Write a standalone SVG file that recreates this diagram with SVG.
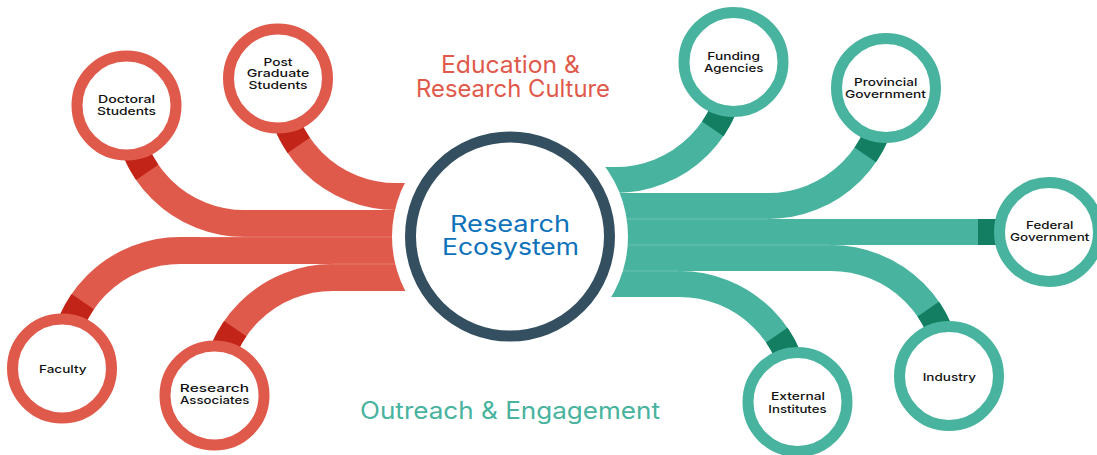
<svg xmlns="http://www.w3.org/2000/svg" xmlns:xlink="http://www.w3.org/1999/xlink" width="1097" height="455" viewBox="0 0 1097 455">
<style>
.br{fill:none;stroke:#E05A4B;stroke-width:27}
.dr{fill:none;stroke:#C22418;stroke-width:27;stroke-dasharray:0 50 21 3000}
.bt{fill:none;stroke:#48B39E;stroke-width:26}
.dt{fill:none;stroke:#137E62;stroke-width:26;stroke-dasharray:0 50 21 3000}
.seam{stroke:#ffffff;stroke-opacity:0.2;stroke-width:1}
.nr{fill:#fff;stroke:#E05A4B;stroke-width:11}
.nt{fill:#fff;stroke:#48B39E;stroke-width:11}
.lbl{font-family:Inter,"Liberation Sans",sans-serif;font-size:11px;font-weight:500;fill:#111;text-anchor:middle}
.ttl{font-family:Inter,"Liberation Sans",sans-serif;font-size:24px;font-weight:400;text-anchor:middle}
.hub{font-family:Inter,"Liberation Sans",sans-serif;font-size:22.5px;font-weight:400;text-anchor:middle;fill:#0E72BB}
</style>
<defs>
<path id="pPG" d="M278,78.5 A118,118 0 0 0 396,196.5 H510"/>
<path id="pDoc" d="M126.5,105.5 A118,118 0 0 0 244.5,223.5 H510"/>
<path id="pFac" d="M62,368.5 A118,118 0 0 1 180,250.5 H510"/>
<path id="pRA" d="M214.5,395.5 A118,118 0 0 1 332.5,277.5 H510"/>
<path id="pFund" d="M733.5,62 A118,118 0 0 1 615.5,180 H510"/>
<path id="pProv" d="M886,88 A118,118 0 0 1 768,206 H510"/>
<path id="pFed" d="M1049,232 H510"/>
<path id="pInd" d="M949,376 A118,118 0 0 0 831,258 H510"/>
<path id="pExt" d="M797.5,402 A118,118 0 0 0 679.5,284 H510"/>
</defs>
<g id="connectors">
<use xlink:href="#pPG" class="br"/><use xlink:href="#pPG" class="dr"/>
<use xlink:href="#pDoc" class="br"/><use xlink:href="#pDoc" class="dr"/>
<use xlink:href="#pFac" class="br"/><use xlink:href="#pFac" class="dr"/>
<use xlink:href="#pRA" class="br"/><use xlink:href="#pRA" class="dr"/>
<use xlink:href="#pFund" class="bt"/><use xlink:href="#pFund" class="dt"/>
<use xlink:href="#pProv" class="bt"/><use xlink:href="#pProv" class="dt"/>
<use xlink:href="#pFed" class="bt"/><use xlink:href="#pFed" class="dt"/>
<use xlink:href="#pInd" class="bt"/><use xlink:href="#pInd" class="dt"/>
<use xlink:href="#pExt" class="bt"/><use xlink:href="#pExt" class="dt"/>
<line class="seam" x1="396" y1="210" x2="510" y2="210"/>
<line class="seam" x1="200" y1="237" x2="510" y2="237"/>
<line class="seam" x1="332" y1="264" x2="510" y2="264"/>
<line class="seam" x1="510" y1="193" x2="615" y2="193"/>
<line class="seam" x1="510" y1="219" x2="768" y2="219"/>
<line class="seam" x1="510" y1="245" x2="831" y2="245"/>
<line class="seam" x1="510" y1="271" x2="679" y2="271"/>
</g>
<g id="hub">
<circle cx="510" cy="236.5" r="118" fill="#fff"/>
<circle cx="510" cy="236.5" r="99.5" fill="#fff" stroke="#344F5F" stroke-width="11"/>
<text class="hub" x="510" y="231.5" textLength="120" lengthAdjust="spacingAndGlyphs">Research</text>
<text class="hub" x="510.5" y="255" textLength="137" lengthAdjust="spacingAndGlyphs">Ecosystem</text>
</g>
<g id="title-education">
<text class="ttl" fill="#E05A4B" x="510.5" y="73" textLength="139" lengthAdjust="spacingAndGlyphs">Education &amp;</text>
<text class="ttl" fill="#E05A4B" x="513" y="97" textLength="194" lengthAdjust="spacingAndGlyphs">Research Culture</text>
</g>
<g id="title-outreach">
<text class="ttl" fill="#48B39E" x="510" y="419" textLength="300" lengthAdjust="spacingAndGlyphs">Outreach &amp; Engagement</text>
</g>
<g id="node-doctoral">
<circle class="nr" cx="126.5" cy="105.5" r="49.5"/>
<text class="lbl" x="126.5" y="103.3" textLength="57" lengthAdjust="spacingAndGlyphs">Doctoral</text>
<text class="lbl" x="126.5" y="115" textLength="59" lengthAdjust="spacingAndGlyphs">Students</text>
</g>
<g id="node-postgrad">
<circle class="nr" cx="278" cy="78.5" r="49.5"/>
<text class="lbl" x="278" y="65.7" textLength="29" lengthAdjust="spacingAndGlyphs">Post</text>
<text class="lbl" x="278" y="77.3" textLength="62.6" lengthAdjust="spacingAndGlyphs">Graduate</text>
<text class="lbl" x="278" y="88.7" textLength="59" lengthAdjust="spacingAndGlyphs">Students</text>
</g>
<g id="node-faculty">
<circle class="nr" cx="62" cy="368.5" r="49.5"/>
<text class="lbl" x="62.8" y="372.7" textLength="47.7" lengthAdjust="spacingAndGlyphs">Faculty</text>
</g>
<g id="node-research-associates">
<circle class="nr" cx="214.5" cy="395.5" r="49.5"/>
<text class="lbl" x="214.5" y="392.3" textLength="69.3" lengthAdjust="spacingAndGlyphs">Research</text>
<text class="lbl" x="214.7" y="404" textLength="69.3" lengthAdjust="spacingAndGlyphs">Associates</text>
</g>
<g id="node-funding">
<circle class="nt" cx="733.5" cy="62" r="49.5"/>
<text class="lbl" x="733.7" y="60" textLength="52.7" lengthAdjust="spacingAndGlyphs">Funding</text>
<text class="lbl" x="733.7" y="71.7" textLength="59.3" lengthAdjust="spacingAndGlyphs">Agencies</text>
</g>
<g id="node-provincial">
<circle class="nt" cx="886" cy="88" r="49.5"/>
<text class="lbl" x="885.7" y="86" textLength="63.3" lengthAdjust="spacingAndGlyphs">Provincial</text>
<text class="lbl" x="885.5" y="97.5" textLength="81" lengthAdjust="spacingAndGlyphs">Government</text>
</g>
<g id="node-federal">
<circle class="nt" cx="1049" cy="232" r="49.5"/>
<text class="lbl" x="1049.7" y="229" textLength="47.3" lengthAdjust="spacingAndGlyphs">Federal</text>
<text class="lbl" x="1049.7" y="240.7" textLength="79.3" lengthAdjust="spacingAndGlyphs">Government</text>
</g>
<g id="node-industry">
<circle class="nt" cx="949" cy="376" r="49.5"/>
<text class="lbl" x="949.3" y="380.7" textLength="53.3" lengthAdjust="spacingAndGlyphs">Industry</text>
</g>
<g id="node-external">
<circle class="nt" cx="797.5" cy="402" r="49.5"/>
<text class="lbl" x="798" y="400" textLength="54" lengthAdjust="spacingAndGlyphs">External</text>
<text class="lbl" x="797.5" y="413.3" textLength="58.3" lengthAdjust="spacingAndGlyphs">Institutes</text>
</g>
</svg>
